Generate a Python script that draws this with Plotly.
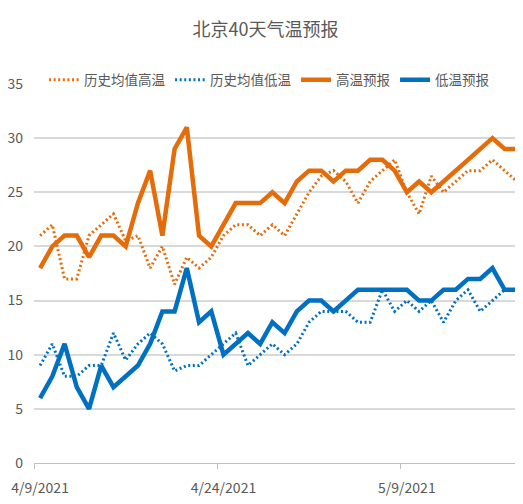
import plotly.graph_objects as go
import pandas as pd

# ---- data ----
start_date = "2021-04-09"
n_days = 40
dates = pd.date_range(start_date, periods=n_days, freq="D")

hist_high = [21, 22, 17, 17, 21, 22, 23, 20.5, 21, 18, 20, 16.5, 19, 18, 19, 21, 22, 22, 21, 22,
             21, 23, 25, 26.5, 27, 26, 24, 26, 27, 28, 25, 23, 26.5, 25, 26, 27, 27, 28, 27, 26]
hist_low = [9, 11, 8, 8, 9, 9, 12, 9.5, 11, 12, 11, 8.5, 9, 9, 10, 11, 12, 9, 10, 11,
            10, 11, 13, 14, 14, 14, 13, 13, 16, 14, 15, 14, 15, 13, 15, 16, 14, 15, 16, 16]
fc_high = [18, 20, 21, 21, 19, 21, 21, 20, 24, 27, 21, 29, 31, 21, 20, 22, 24, 24, 24, 25,
           24, 26, 27, 27, 26, 27, 27, 28, 28, 27, 25, 26, 25, 26, 27, 28, 29, 30, 29, 29]
fc_low = [6, 8, 11, 7, 5, 9, 7, 8, 9, 11, 14, 14, 18, 13, 14, 10, 11, 12, 11, 13,
          12, 14, 15, 15, 14, 15, 16, 16, 16, 16, 16, 15, 15, 16, 16, 17, 17, 18, 16, 16]

series_names = ["历史均值高温", "历史均值低温", "高温预报", "低温预报"]
tick_dates = ["2021-04-09", "2021-04-24", "2021-05-09"]
tick_labels = ["4/9/2021", "4/24/2021", "5/9/2021"]
y_ticks = [0, 5, 10, 15, 20, 25, 30, 35]
title_text = "北京40天气温预报"

ORANGE = "#E46C0A"
BLUE = "#0070C0"
GRAY = "#595959"
half_day = pd.Timedelta(hours=12)

fig = go.Figure()
fig.add_trace(go.Scatter(x=dates, y=hist_high, name=series_names[0], mode="lines",
                         line=dict(color=ORANGE, width=3, dash="2px,2.6px")))
fig.add_trace(go.Scatter(x=dates, y=hist_low, name=series_names[1], mode="lines",
                         line=dict(color=BLUE, width=3, dash="2px,2.6px")))
fig.add_trace(go.Scatter(x=dates, y=fc_high, name=series_names[2], mode="lines",
                         line=dict(color=ORANGE, width=4.5)))
fig.add_trace(go.Scatter(x=dates, y=fc_low, name=series_names[3], mode="lines",
                         line=dict(color=BLUE, width=4.5)))

axis_start = pd.Timestamp(start_date) - half_day

# the page body adds an 8px offset, so the figure is 8px smaller and margins shifted
fig.update_layout(
    width=515, height=496,
    margin=dict(l=26, r=0, t=76, b=41, autoexpand=False),
    paper_bgcolor="white", plot_bgcolor="white",
    font=dict(family="Liberation Sans Narrow, Noto Sans CJK SC, sans-serif", color=GRAY, size=14),
    title=dict(text=title_text, x=0.5, xanchor="center", y=0.956, yanchor="middle",
               font=dict(family="Noto Sans CJK SC", size=18, color=GRAY)),
    showlegend=True,
    legend=dict(orientation="h", xref="container", yref="container",
                x=0.07, y=0.855, xanchor="left", yanchor="middle",
                font=dict(family="Noto Sans CJK SC", size=13.5, color=GRAY),
                bgcolor="rgba(0,0,0,0)", itemwidth=30, tracegroupgap=0),
    xaxis=dict(type="date",
               range=[axis_start, dates[-1] + half_day],
               tickvals=pd.to_datetime(tick_dates), ticktext=tick_labels,
               showgrid=False, showline=True, linecolor="#BFBFBF", linewidth=1,
               ticks="", ticklabelstandoff=12,
               tickfont=dict(size=14, color=GRAY), zeroline=False,
               minor=dict(tick0=axis_start, dtick=15 * 86400000, ticks="outside",
                          ticklen=5, tickcolor="#BFBFBF", showgrid=False)),
    yaxis=dict(range=[0, 35], tickvals=y_ticks, showgrid=True, gridcolor="#D9D9D9", gridwidth=1.5,
               zeroline=False, showline=False, ticks="", ticklabelstandoff=10,
               tickfont=dict(size=14, color=GRAY)),
)

fig.write_html("out.html")
